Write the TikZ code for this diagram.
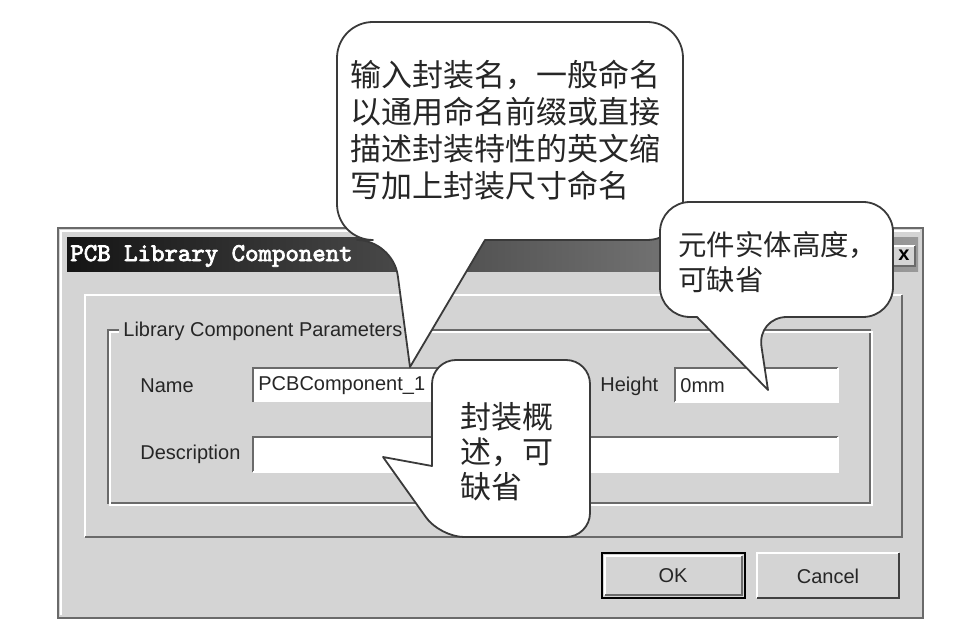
\documentclass[tikz,border=0pt]{standalone}
\usepackage{fontspec}
\setmainfont{Liberation Sans}
\newfontfamily\cjk{Noto Sans CJK SC}
\newfontfamily\titlefont{lmmono10-regular.otf}[FakeBold=3]
\definecolor{winface}{HTML}{D4D4D4}
\definecolor{winshadow}{HTML}{6A6A6A}
\definecolor{bubbleline}{HTML}{3A3A3A}

\begin{document}
\begin{tikzpicture}[x=0.5pt,y=-0.5pt,
	ui/.style={font=\fontsize{10}{12}\selectfont, text=black!85, inner sep=0pt},
	note/.style={font=\cjk\fontsize{15.5}{18.5}\selectfont, align=left, inner sep=0pt, text=black!85},
	bubble/.style={fill=white, draw=bubbleline, line width=0.9pt, line join=round},
	lit/.style={draw=white, line width=1pt},
	dim/.style={draw=winshadow, line width=1pt}]

\useasboundingbox (0,0) rectangle (979,635);

% dialog window
\fill[winface] (58,228) rectangle (923,618);
\draw[dim] (58,228) rectangle (923,618);
\draw[lit] (61,615) -- (61,231) -- (920,231);
\shade[left color=black!92, middle color=black!58, right color=black!40] (67,238) rectangle (918,272);
\node[anchor=west, text=white, inner sep=0pt, font=\titlefont\fontsize{12.8}{14}\selectfont] (title) at (70,256) {PCB Library Component};
\fill[winface] (893,246) rectangle (915,266);
\draw[lit] (893,266) -- (893,246) -- (915,246);
\draw[dim] (893,266) -- (915,266) -- (915,246);
\node[font=\bfseries\fontsize{10}{10}\selectfont, inner sep=0pt] (close) at (904,255) {x};

% tab panel
\draw[lit] (85,537) -- (85,295) -- (902,295);
\draw[dim] (85,537) -- (902,537) -- (902,295);

% group box
\draw[dim] (108,330) rectangle (870,503);
\draw[lit] (110,332) rectangle (872,505);
\node[ui, anchor=west, fill=winface, inner xsep=2pt, inner ysep=1pt] (group) at (119,331) {Library Component Parameters};

% name
\node[ui, anchor=west] (nameLabel) at (140,386) {Name};
\fill[white] (253,368) rectangle (540,402);
\draw[dim, line width=1.4pt] (253,402) -- (253,368) -- (540,368);
\node[ui, anchor=west] (nameText) at (258,386) {PCBComponent\_1};

% height
\node[ui, anchor=west] (heightLabel) at (600,386) {Height};
\fill[white] (675,368) rectangle (838,402);
\draw[dim, line width=1.4pt] (675,402) -- (675,368) -- (838,368);
\draw[lit] (675,402) -- (838,402) -- (838,368);
\node[ui, anchor=west] (heightText) at (680,386) {0mm};

% description
\node[ui, anchor=west] (descLabel) at (140,454) {Description};
\fill[white] (253,437) rectangle (838,472);
\draw[dim, line width=1.4pt] (253,472) -- (253,437) -- (838,437);
\draw[lit] (253,472) -- (838,472) -- (838,437);

% buttons
\draw[black, line width=1pt] (602,553) rectangle (745,598);
\draw[lit] (605,595) -- (605,556) -- (742,556);
\draw[dim] (605,595) -- (742,595) -- (742,556);
\node[ui] (ok) at (673,576) {OK};
\draw[lit] (757,598) -- (757,553) -- (899,553);
\draw[black!75, line width=1pt] (757,598) -- (899,598) -- (899,553);
\node[ui] (cancel) at (828,576) {Cancel};

% callouts
\coordinate (nameTip) at (410,367);
\coordinate (heightTip) at (768,390);
\coordinate (descTip) at (383,457);

\draw[bubble] (nameTip) -- (485,240) [rounded corners=18pt] -- (683,240) -- (683,22) -- (337,22) -- (337,240) -- (393,240) [sharp corners] -- cycle;
\node[note, anchor=west] (nameNote) at (350,130) {输入封装名，一般命名\\以通用命名前缀或直接\\描述封装特性的英文缩\\写加上封装尺寸命名};

\draw[bubble] (heightTip) -- (697,317) [rounded corners=15pt] -- (660,317) -- (660,202) -- (893,202) -- (893,317) -- (757,317) [sharp corners] -- cycle;
\node[note, anchor=west, font=\cjk\fontsize{14.2}{17.5}\selectfont] (heightNote) at (678,262) {元件实体高度，\\可缺省};

\draw[bubble] (descTip) -- (432,466) [rounded corners=12pt] -- (432,360) -- (590,360) -- (590,537) -- (440,537) [sharp corners] -- cycle;
\node[note, anchor=west, font=\cjk\fontsize{15.5}{17.5}\selectfont] (descNote) at (460,452) {封装概\\述，可\\缺省};

\end{tikzpicture}
\end{document}
